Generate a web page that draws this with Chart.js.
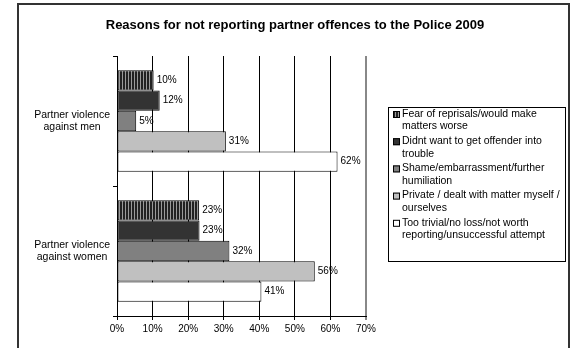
<!DOCTYPE html>
<html lang="en">
<head>
  <meta charset="UTF-8" />
  <title>Reasons for not reporting partner offences</title>
  <script src="https://cdn.jsdelivr.net/npm/chart.js"></script>
  <style>
    body { margin: 0; background: #fff; }
    #wrap { width: 574px; height: 348px; position: relative; }
  </style>
</head>
<body>
  <div id="wrap"><canvas id="chart"></canvas></div>
  <script>
    // data
    const categories = [['Partner violence', 'against men'], ['Partner violence', 'against women']];
    const seriesNames = [
      ['Fear of reprisals/would make', 'matters worse'],
      ['Didnt want to get offender into', 'trouble'],
      ['Shame/embarrassment/further', 'humiliation'],
      ['Private / dealt with matter myself /', 'ourselves'],
      ['Too trivial/no loss/not worth', 'reporting/unsuccessful attempt']
    ];
    const fearValues = [10.3, 23.1];
    const troubleValues = [12, 23.2];
    const shameValues = [5.4, 31.6];
    const privateValues = [30.6, 55.6];
    const trivialValues = [62, 40.6];
    const xTicks = [0, 10, 20, 30, 40, 50, 60, 70];

    const FONT = '"Liberation Sans", Arial, sans-serif';

    // vertical stripe fill for the first series
    function stripes() {
      const c = document.createElement('canvas');
      c.width = 3; c.height = 4;
      const x = c.getContext('2d');
      x.fillStyle = '#222';
      x.fillRect(0, 0, 3, 4);
      x.fillStyle = '#9a9a9a';
      x.fillRect(2, 0, 1, 4);
      return document.createElement('canvas').getContext('2d').createPattern(c, 'repeat');
    }
    const fills = [stripes(), '#333333', '#808080', '#c0c0c0', '#ffffff'];
    const allValues = [fearValues, troubleValues, shameValues, privateValues, trivialValues];

    const decor = {
      id: 'decor',
      beforeDraw(chart) {
        const ctx = chart.ctx;
        ctx.save();
        ctx.fillStyle = '#fff';
        ctx.fillRect(0, 0, chart.width, chart.height);
        ctx.restore();
      },
      afterDatasetsDraw(chart) {
        const ctx = chart.ctx;
        ctx.save();
        ctx.font = '10px ' + FONT;
        ctx.fillStyle = '#000';
        ctx.textBaseline = 'middle';
        chart.data.datasets.forEach((ds, i) => {
          chart.getDatasetMeta(i).data.forEach((bar, j) => {
            ctx.fillText(Math.round(ds.data[j]) + '%', bar.x + 3, bar.y);
          });
        });
        ctx.restore();
      },
      afterDraw(chart) {
        const ctx = chart.ctx;
        ctx.save();
        // outer frame
        ctx.strokeStyle = '#333';
        ctx.lineWidth = 2;
        ctx.strokeRect(18, 4, 551, 400);
        // title
        ctx.fillStyle = '#000';
        ctx.font = 'bold 13px ' + FONT;
        ctx.textAlign = 'center';
        ctx.textBaseline = 'middle';
        ctx.fillText('Reasons for not reporting partner offences to the Police 2009', 295, 25);
        // legend
        ctx.lineWidth = 1;
        ctx.strokeStyle = '#000';
        ctx.strokeRect(388.5, 107.5, 177, 154);
        ctx.textAlign = 'left';
        ctx.font = '10.5px ' + FONT;
        seriesNames.forEach((lines, i) => {
          const y = 114 + i * 27.2;
          ctx.fillStyle = fills[i];
          ctx.fillRect(393, y - 3, 7, 7);
          ctx.strokeRect(393.5, y - 2.5, 6, 6);
          ctx.fillStyle = '#000';
          lines.forEach((t, k) => ctx.fillText(t, 402, y + k * 12.5));
        });
        ctx.restore();
      }
    };

    new Chart(document.getElementById('chart'), {
      type: 'bar',
      data: {
        labels: categories,
        datasets: allValues.map((vals, i) => ({
          label: seriesNames[i].join(' '),
          data: vals,
          backgroundColor: fills[i],
          borderColor: '#000',
          borderWidth: 1,
          borderSkipped: false,
          categoryPercentage: 0.78,
          barPercentage: 1
        }))
      },
      options: {
        indexAxis: 'y',
        responsive: true,
        maintainAspectRatio: false,
        animation: false,
        layout: { padding: { left: 18, top: 56, right: 208, bottom: 0 } },
        scales: {
          x: {
            min: 0,
            max: 70,
            afterFit(s) { s.height = 32; },
            afterBuildTicks(s) { s.ticks = xTicks.map(v => ({ value: v })); },
            ticks: {
              color: '#000',
              font: { family: FONT, size: 10 },
              padding: 3,
              callback: v => v + '%'
            },
            grid: {
              color: ctx => ctx.tick && ctx.tick.value === 70 ? '#888' : '#000',
              lineWidth: ctx => ctx.tick && ctx.tick.value === 70 ? 2 : 1,
              tickLength: 4
            },
            border: { color: '#000' }
          },
          y: {
            afterFit(s) { s.width = 99; },
            ticks: {
              color: '#000',
              font: { family: FONT, size: 10.5 },
              crossAlign: 'center'
            },
            grid: {
              offset: true,
              drawOnChartArea: false,
              color: '#000',
              tickLength: 4
            },
            border: { color: '#000' }
          }
        },
        plugins: {
          legend: { display: false },
          tooltip: { enabled: false }
        }
      },
      plugins: [decor]
    });
  </script>
</body>
</html>
